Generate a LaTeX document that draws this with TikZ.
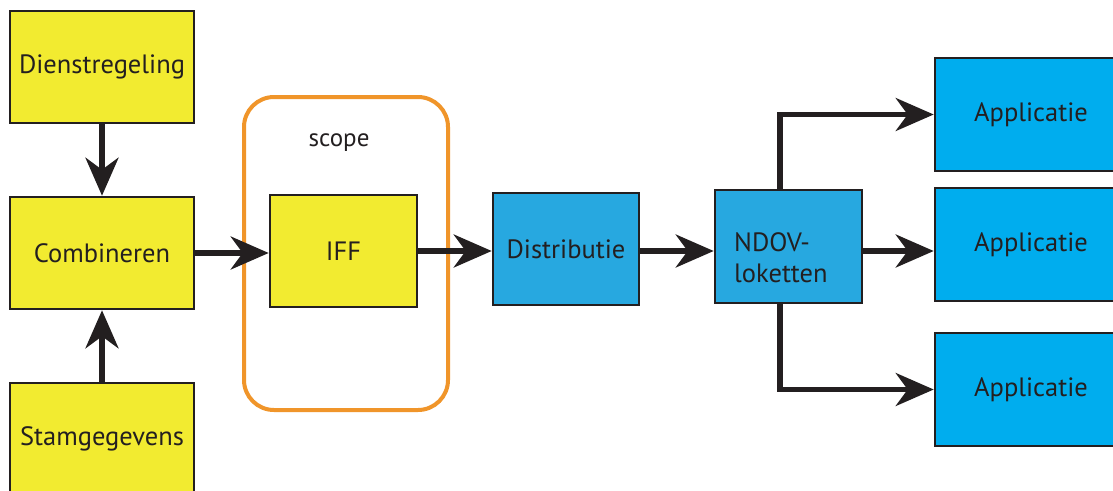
\documentclass[tikz,border=0pt]{standalone}
\usepackage{fontspec}
\setmainfont{PT Sans}
\usetikzlibrary{arrows.meta}
\definecolor{ybox}{HTML}{F2EB30}
\definecolor{bbox}{HTML}{27A8E0}
\definecolor{cbox}{HTML}{00ADEE}
\definecolor{edge}{HTML}{231F20}
\definecolor{orng}{HTML}{F0952A}
\tikzset{
  box/.style={draw=edge, line width=2.6pt, inner sep=0pt, font=\fontsize{26.5}{31}\selectfont, text=edge},
  ybx/.style={box, fill=ybox, minimum width=184pt, minimum height=112pt},
  bbx/.style={box, fill=bbox},
  cbx/.style={box, fill=cbox, minimum width=192pt, minimum height=113pt},
  conn/.style={draw=edge, line width=5.2pt, -{Stealth[length=38pt,width=33pt,inset=12pt]}},
}
\begin{document}
\begin{tikzpicture}[x=1pt,y=-1pt]
\useasboundingbox (0,0) rectangle (1113,490);
\clip (0,0) rectangle (1113,490);
\fill[white] (0,0) rectangle (1113,490);
% scope frame
\node[draw=orng, line width=4pt, rounded corners=30pt, minimum width=204pt, minimum height=313pt, inner sep=0pt] (scope) at (346,253.5) {};
\node[font=\fontsize{25}{30}\selectfont, text=edge] (scopelbl) at (339,143) {scope};
% yellow boxes
\node[ybx] (dienst) at (102,67) {Dienstregeling};
\node[ybx] (comb) at (102,253) {Combineren};
\node[ybx] (stam) at (102,439) {Stamgegevens};
\node[ybx, minimum width=147pt] (iff) at (343.5,251) {IFF};
% blue boxes
\node[bbx, minimum width=146pt, minimum height=112pt] (distr) at (566,249) {Distributie};
\node[bbx, minimum width=147pt, minimum height=113pt] (ndov) at (788.5,246.5) {};
\node[font=\fontsize{26.5}{31}\selectfont, text=edge, align=left, anchor=west, inner sep=0pt] (ndovt) at (734,258) {NDOV-\\loketten};
\node[cbx] (app1) at (1031,114.5) {Applicatie};
\node[cbx] (app2) at (1031,244.5) {Applicatie};
\node[cbx] (app3) at (1031,389.5) {Applicatie};
% connectors
\draw[conn] (dienst) -- (comb);
\draw[conn] (stam) -- (comb);
\draw[conn] (comb.east) -- (iff.west |- comb.east);
\draw[conn] (iff.east) -- (distr.west |- iff.east);
\draw[conn] (distr.east |- iff.east) -- (ndov.west |- iff.east);
\draw[conn] (ndov.east |- iff.east) -- (app2.west |- iff.east);
\draw[conn] ([xshift=-8.5pt]ndov.north) |- (app1.west);
\draw[conn] ([xshift=-8.5pt]ndov.south) |- (app3.west);
\end{tikzpicture}
\end{document}
